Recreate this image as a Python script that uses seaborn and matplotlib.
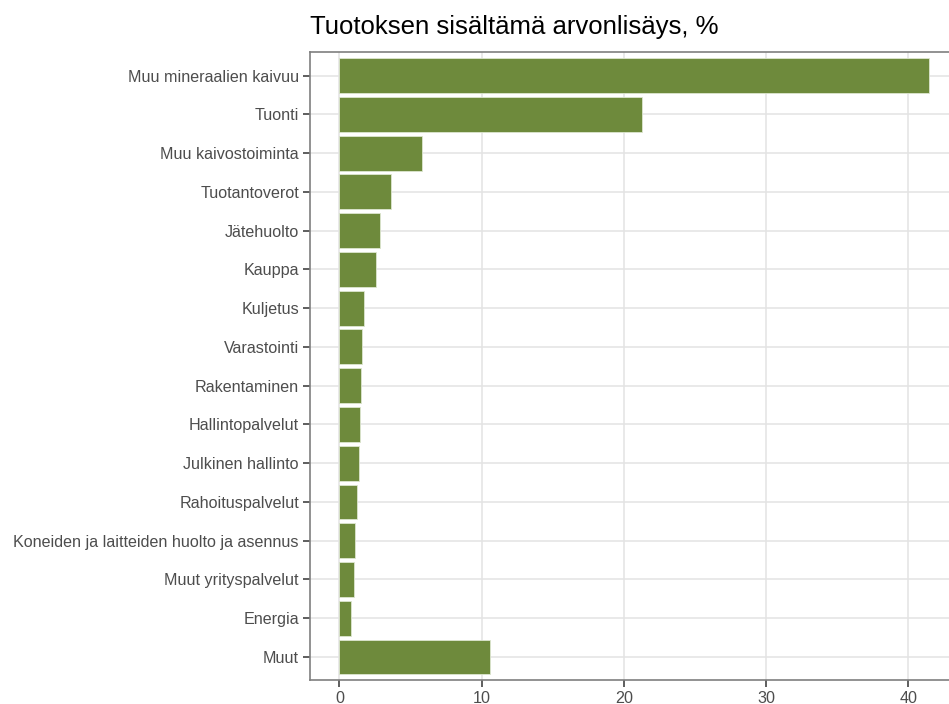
import numpy as np
import pandas as pd
import matplotlib.pyplot as plt
import seaborn as sns

toimialat = ["Muu mineraalien kaivuu", "Tuonti", "Muu kaivostoiminta", "Tuotantoverot",
             "Jätehuolto", "Kauppa", "Kuljetus", "Varastointi", "Rakentaminen",
             "Hallintopalvelut", "Julkinen hallinto", "Rahoituspalvelut",
             "Koneiden ja laitteiden huolto ja asennus", "Muut yrityspalvelut",
             "Energia", "Muut"]
osuus = [41.45, 21.3, 5.8, 3.64, 2.82, 2.54, 1.70, 1.56, 1.49, 1.46, 1.39, 1.25,
         1.10, 0.99, 0.81, 10.61]
x_ticks = [0, 10, 20, 30, 40]

df = pd.DataFrame({"toimiala": toimialat, "osuus": osuus})

sns.set_theme(style="white")
plt.rcParams['font.family'] = ['Liberation Sans', 'DejaVu Sans']

fig = plt.figure(figsize=(9.49, 7.04), dpi=100)
ax = fig.add_axes([0.3267, 0.0337, 0.683, 0.892])

sns.barplot(data=df, x="osuus", y="toimiala", orient="h", color="#6E8A3C",
            saturation=1, width=0.9, edgecolor="#DDE6D0", linewidth=0.6, ax=ax, zorder=3)

ax.set_xlim(-2.07, 43.52)
ax.set_ylim(15.6, -0.6)
ax.set_xticks(x_ticks)
ax.grid(True, color="#E3E3E3", linewidth=1.1, zorder=0)
ax.set_axisbelow(True)
for s in ax.spines.values():
    s.set_color("#7F7F7F")
    s.set_linewidth(1.2)

ax.tick_params(axis="both", which="both", length=5, width=1.1, color="#333333",
               labelsize=11.6, labelcolor="#4D4D4D", pad=3, left=True, bottom=True)
ax.set_xlabel("")
ax.set_ylabel("")
fig.text(0.3267, 0.962, "Tuotoksen sisältämä arvonlisäys, %", fontsize=18.5,
         color="black", ha="left", va="center")

fig.savefig("out.png", dpi=100)
